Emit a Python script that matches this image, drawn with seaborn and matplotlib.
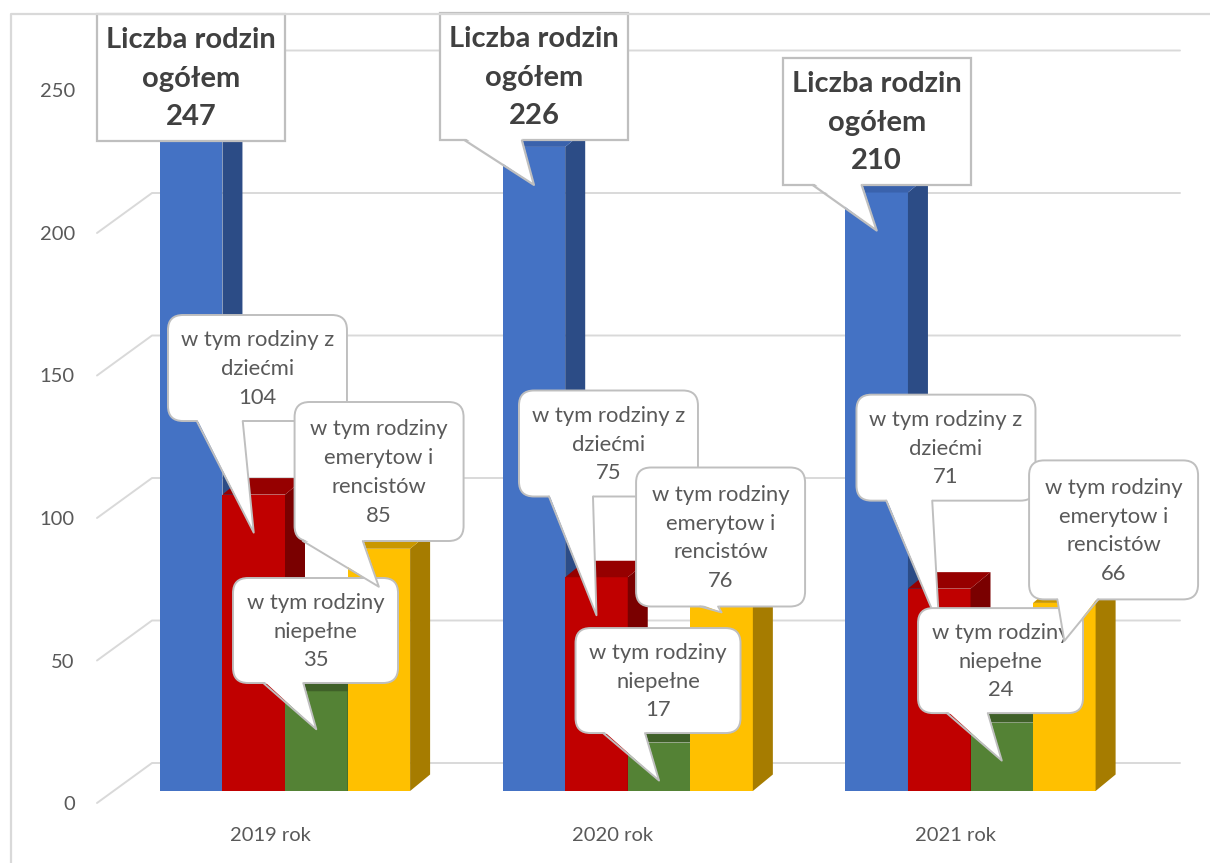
import numpy as np
import pandas as pd
import matplotlib
matplotlib.use("Agg")
import matplotlib.pyplot as plt
import matplotlib.transforms as mtransforms
from matplotlib.patches import Polygon, FancyBboxPatch
from matplotlib.lines import Line2D
import seaborn as sns

# ---------------- data ----------------
years = ["2019 rok", "2020 rok", "2021 rok"]
series = ["ogółem", "z dziećmi", "niepełne", "emeryci i renciści"]
ogolem = [247, 226, 210]
z_dziecmi = [104, 75, 71]
niepelne = [35, 17, 24]
emeryci = [85, 76, 66]
y_ticks = [0, 50, 100, 150, 200, 250]

label_templates = [
    "Liczba rodzin\nogółem\n{}",
    "w tym rodziny z\ndziećmi\n{}",
    "w tym rodziny\nniepełne\n{}",
    "w tym rodziny\nemerytow i\nrencistów\n{}",
]

# ---------------- style ----------------
front_colors = ["#4472C4", "#C00000", "#548235", "#FFC000"]
side_colors = ["#2C4C86", "#7A0000", "#3A5B25", "#A67C00"]
top_colors = ["#3A62AC", "#960000", "#3F6028", "#C99700"]
GRID = "#D9D9D9"
TXT = "#595959"

W, H, DPI = 1210, 863, 100
# layout in pixels
AX_L, AX_R, AX_T, AX_B = 97, 1185, 14, 803
CAT0_PX = 285.0          # x pixel of first category centre
PX_PER_CAT = 342.75
ZERO_ROW = 791.0         # pixel row of value 0 on bar front plane
PX_PER_UNIT = 2.85
DEPTH_DX, DEPTH_DY = 20.0, 16.5

# callout layout: (dx, dy) box centre relative to tip, tail base (left, right) relative to tip
callout_layout = {
    (0, 0): (0, 47.5, None),
    (1, 0): (0, 108, (-69, -12)),
    (2, 0): (0, 109, (-64, -15)),
    (0, 1): (3.75, 164.6, (-57, -11)),
    (1, 1): (12, 171.75, (-47.5, -3.5)),
    (2, 1): (6.75, 179, (-53, -7)),
    (0, 2): (-0.75, 98.75, (-53, -13)),
    (1, 2): (-1, 100, (-56, -14)),
    (2, 2): (-1.25, 100, (-55, -14)),
    (0, 3): (0.25, 115.25, (-76, -16)),
    (1, 3): (-1, 75.4, (-21.5, -3.5)),
    (2, 3): (49.25, 111, (-7, 34)),
}
box_sizes = [(188, 127), (179, 106), (165, 105), (169, 139)]
TIP_DROP = 38

sns.set_style("white")
plt.rcParams["font.family"] = ["Lato", "DejaVu Sans"]

fig = plt.figure(figsize=(W / DPI, H / DPI), dpi=DPI)
pos = [AX_L / W, (H - AX_B) / H, (AX_R - AX_L) / W, (AX_B - AX_T) / H]

# axis for tick labels (wall front plane)
ax2 = fig.add_axes(pos)
ax2.set_xlim((AX_L - (CAT0_PX - 15)) / PX_PER_CAT, (AX_R - (CAT0_PX - 15)) / PX_PER_CAT)
ax2.set_ylim(0, (AX_B - AX_T) / PX_PER_UNIT)
ax2.set_xticks(range(len(years)), years)
ax2.set_yticks(y_ticks, [str(t) for t in y_ticks])
for s in ax2.spines.values():
    s.set_visible(False)
ax2.patch.set_visible(False)
ax2.tick_params(axis="x", length=0, pad=17, labelsize=14.5, labelcolor=TXT)
ax2.tick_params(axis="y", length=0, pad=16, labelsize=14.5, labelcolor=TXT)
ax2.grid(False)

# main axis (bar front plane)
ax = fig.add_axes(pos)
ax.patch.set_visible(False)

df = pd.DataFrame({
    "rok": years * 4,
    "seria": np.repeat(series, len(years)),
    "liczba": ogolem + z_dziecmi + niepelne + emeryci,
})
sns.barplot(data=df, x="rok", y="liczba", hue="seria", order=years, hue_order=series,
            palette=front_colors, saturation=1, width=0.73, errorbar=None,
            legend=False, linewidth=0, ax=ax)

xlim = ((AX_L - CAT0_PX) / PX_PER_CAT, (AX_R - CAT0_PX) / PX_PER_CAT)
ylim = ((ZERO_ROW - AX_B) / PX_PER_UNIT, (ZERO_ROW - AX_T) / PX_PER_UNIT)

ddx = DEPTH_DX / PX_PER_CAT
ddy = DEPTH_DY / PX_PER_UNIT

# 3D side and top faces
for i, cont in enumerate(ax.containers):
    for rect in cont:
        x0, w, h = rect.get_x(), rect.get_width(), rect.get_height()
        z = 2 + i * 0.3
        rect.set_zorder(z)
        side = Polygon([(x0 + w, 0), (x0 + w, h), (x0 + w + ddx, h + ddy), (x0 + w + ddx, ddy)],
                       closed=True, fc=side_colors[i], ec="none", zorder=z + 0.1)
        top = Polygon([(x0, h), (x0 + w, h), (x0 + w + ddx, h + ddy), (x0 + ddx, h + ddy)],
                      closed=True, fc=top_colors[i], ec="none", zorder=z + 0.2)
        ax.add_patch(side)
        ax.add_patch(top)

# gridlines: side wall + back wall
for v in y_ticks:
    tv = mtransforms.Affine2D() + mtransforms.ScaledTranslation(0, v, ax.get_yaxis_transform())
    ln = Line2D([0, 55, 1180 - AX_L], [-12, 28, 28], transform=tv, color=GRID, lw=1.4,
                zorder=0.5, clip_on=False)
    ax.add_artist(ln)

# callouts
zc = 10
for i, cont in enumerate(ax.containers):
    bw, bh = box_sizes[i]
    for j, rect in enumerate(cont):
        val = [ogolem, z_dziecmi, niepelne, emeryci][i][j]
        xc = rect.get_x() + rect.get_width() / 2
        T = mtransforms.Affine2D().translate(0, -TIP_DROP) + \
            mtransforms.ScaledTranslation(xc, rect.get_height(), ax.transData)
        dx, dy, base = callout_layout[(j, i)]
        left, bottom = dx - bw / 2, dy - bh / 2
        if i == 0:
            style = "square,pad=0"
            lw = 1.6
        else:
            style = "round,pad=0,rounding_size=15"
            lw = 1.4
        box = FancyBboxPatch((left, bottom), bw, bh, boxstyle=style, transform=T,
                             fc="white", ec="#BFBFBF", lw=lw, zorder=zc, clip_on=False)
        ax.add_artist(box)
        if base is not None:
            bl, br = base
            tail = Polygon([(bl, bottom + 2.5), (0, 0), (br, bottom + 2.5)], closed=True,
                           transform=T, fc="white", ec="none", zorder=zc + 0.01, clip_on=False)
            ax.add_artist(tail)
            edge = Line2D([bl, 0, br], [bottom, 0, bottom], transform=T, color="#BFBFBF",
                          lw=lw, zorder=zc + 0.02, clip_on=False)
            ax.add_artist(edge)
        if i == 0:
            ax.text(dx, dy - 1, label_templates[i].format(val), transform=T, ha="center",
                    va="center", ma="center", fontsize=21, fontweight="bold",
                    color="#404040", linespacing=1.6, zorder=zc + 0.03, clip_on=False)
        else:
            ax.text(dx, dy - 1, label_templates[i].format(val), transform=T, ha="center",
                    va="center", ma="center", fontsize=15.8, color=TXT,
                    linespacing=1.55, zorder=zc + 0.03, clip_on=False)
        zc += 1

ax.set_xlim(*xlim)
ax.set_ylim(*ylim)
ax.set_axis_off()

# outer chart border (left and top)
fig.add_artist(Line2D([11 / W, 11 / W, 1.0], [0, (H - 14) / H, (H - 14) / H],
                      transform=fig.transFigure, color=GRID, lw=1.6))

fig.savefig("out.png", dpi=DPI, facecolor="white")
